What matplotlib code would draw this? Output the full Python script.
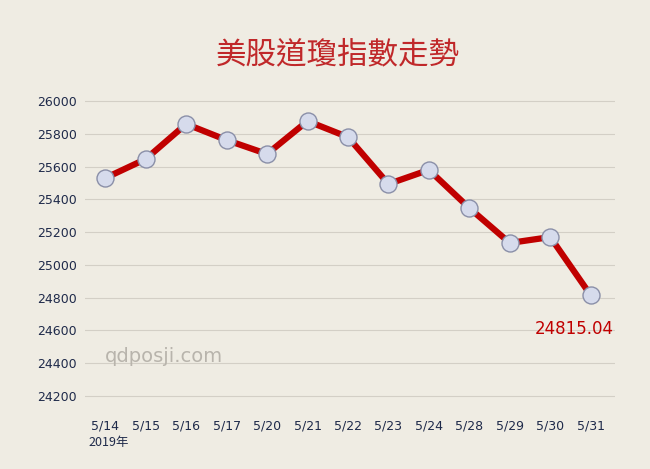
import matplotlib
matplotlib.use("Agg")
import matplotlib.pyplot as plt

dates = ["5/14","5/15","5/16","5/17","5/20","5/21","5/22","5/23","5/24","5/28","5/29","5/30","5/31"]
values = [25530,25646,25860,25762,25677,25878,25780,25494,25580,25347,25134,25170,24815.04]
yticks = [24200,24400,24600,24800,25000,25200,25400,25600,25800,26000]
title = "美股道瓊指數走勢"

bg = "#efece3"
fig = plt.figure(figsize=(6.5,4.69), dpi=100, facecolor=bg)
bottom_px, top_px = 410, 95
ax = fig.add_axes([85/650, 1-bottom_px/469, 530/650, (bottom_px-top_px)/469], facecolor=bg)
x = list(range(len(dates)))
ax.plot(x, values, color="#c00000", lw=4.5, zorder=2)
ax.scatter(x, values, s=150, facecolor="#d6dbec", edgecolor="#8a8fa8", lw=1, zorder=3)
ax.set_xlim(-0.5, 12.6)
ax.set_ylim(24200-14/0.1639, 26037)
ax.set_yticks(yticks)
ax.set_yticklabels([str(v) for v in yticks], fontsize=9, color="#1f2a4a")
ax.set_xticks(x)
ax.set_xticklabels(dates, fontsize=9, color="#1f2a4a")
ax.grid(axis="y", color="#d3cfc6", lw=0.8)
ax.set_axisbelow(True)
for s in ax.spines.values():
    s.set_visible(False)
ax.tick_params(length=0, pad=6)
ax.tick_params(axis="x", pad=7)
fig.text(88/650, 1-442/469, "2019年", fontsize=9, color="#1f2a4a", family="Noto Sans CJK TC", va="center")
ax.text(x[-1]-0.4, 24610, f"{values[-1]:.2f}", color="#c00000", fontsize=12, ha="center", va="center")
fig.text(105/650, 1-356/469, "qdposji.com", fontsize=14, color="#b8b4ac", va="center")
fig.text(0.52, 1-55/469, title, fontsize=22, color="#c0282a", ha="center", va="center", family="Noto Sans CJK TC")
fig.savefig("out.png", dpi=100, facecolor=bg)
